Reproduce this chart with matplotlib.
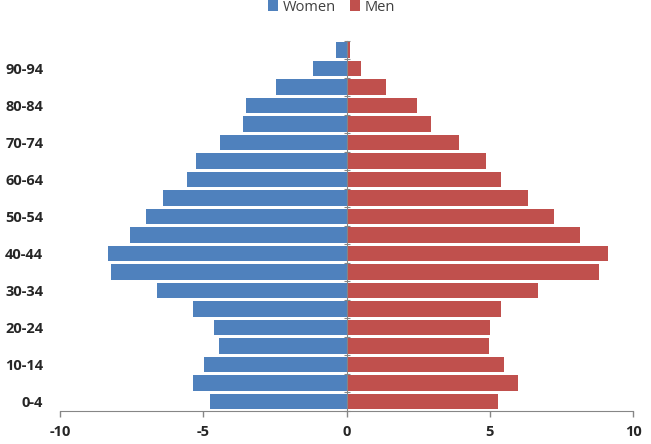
import matplotlib.pyplot as plt
import numpy as np

# age groups from bottom to top
ages = ['0-4', '5-9', '10-14', '15-19', '20-24', '25-29', '30-34', '35-39',
        '40-44', '45-49', '50-54', '55-59', '60-64', '65-69', '70-74',
        '75-79', '80-84', '85-89', '90-94', '95-99']
women = [-4.76, -5.37, -4.96, -4.45, -4.62, -5.36, -6.60, -8.23, -8.31, -7.56,
         -7.00, -6.39, -5.57, -5.24, -4.41, -3.61, -3.52, -2.45, -1.17, -0.35]
men = [5.28, 6.00, 5.48, 4.98, 5.00, 5.41, 6.69, 8.83, 9.12, 8.16,
       7.24, 6.32, 5.40, 4.87, 3.94, 2.94, 2.45, 1.37, 0.50, 0.12]
xticks = [-10, -5, 0, 5, 10]

blue = '#4F81BD'
red = '#C0504D'
grey = '#868686'
txt = '#262626'

fig = plt.figure(figsize=(6.51, 4.44), dpi=100)
ax = fig.add_axes([60 / 651, 1 - 410.7 / 444, 573 / 651, 370 / 444])

y = np.arange(len(ages))
ax.barh(y, women, height=0.85, color=blue, label='Women', zorder=2)
ax.barh(y, men, height=0.85, color=red, label='Men', zorder=2)

ax.set_xlim(-10, 10)
ax.set_ylim(-0.5, len(ages) - 0.5)

# spines first: moving a spine resets the ticks
ax.spines['left'].set_visible(False)
ax.spines['top'].set_visible(False)
ax.spines['right'].set_position(('data', 0))
ax.spines['right'].set_color(grey)
ax.spines['bottom'].set_color(grey)

# tick marks on the zero axis at group boundaries, labels every other group on the left
ax.set_yticks(y[::2])
ax.set_yticks(np.arange(len(ages) + 1) - 0.5, minor=True)
ax.tick_params(axis='y', which='major', length=0, pad=12)
ax.tick_params(axis='y', which='minor', left=False, right=True, length=5,
               direction='inout', color=grey, width=0.8)
ax.tick_params(axis='x', length=4, width=1, color=grey, pad=6)

ax.set_xticks(xticks)
ax.set_xticklabels([str(v) for v in xticks])
ax.set_yticklabels(ages[::2])
for lbl in ax.get_xticklabels() + ax.get_yticklabels():
    lbl.set_fontfamily('Open Sans')
    lbl.set_fontweight('bold')
    lbl.set_fontsize(10.5)
    lbl.set_color(txt)

fig.legend(loc='center', bbox_to_anchor=(0.509, 0.984), ncol=2, frameon=False,
           handlelength=0.7, handleheight=0.7, handletextpad=0.3, columnspacing=1.0,
           prop={'family': 'Open Sans', 'size': 10.5}, labelcolor='#404040')

fig.savefig('out.png', dpi=100)
